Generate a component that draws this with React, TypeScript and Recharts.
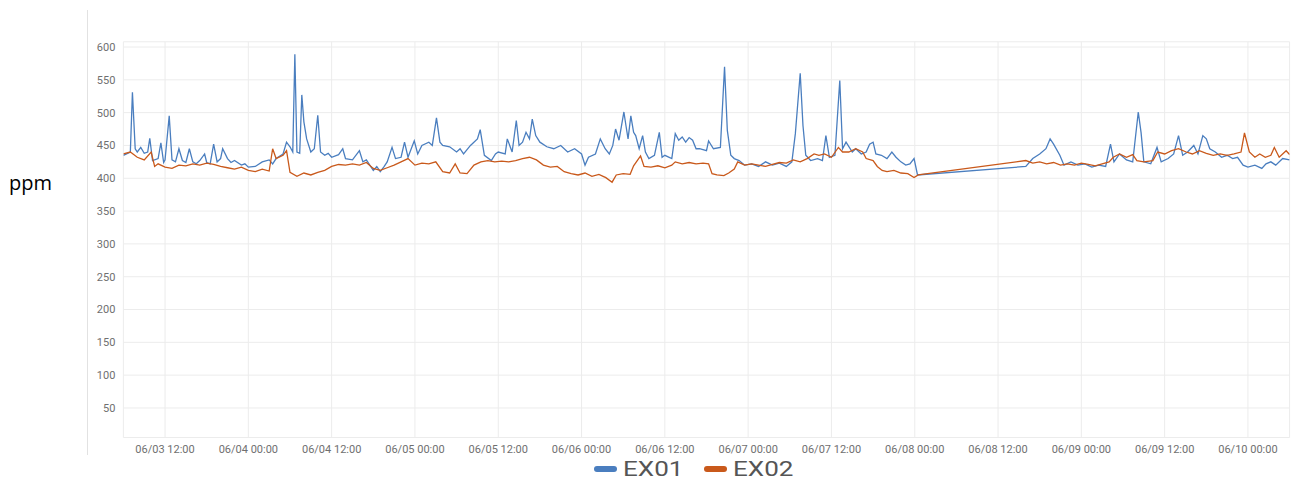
import React from "react";
import { LineChart, Line, XAxis, YAxis, CartesianGrid, Legend } from "recharts";

// hours since 06/03 06:00
const ex01Hours = [
  0, 1, 1.3, 1.7, 2, 2.5, 3, 3.5, 3.8, 4.2, 5, 5.4, 5.8, 6, 6.6, 7, 7.5, 8, 8.5, 9, 9.5, 10, 10.5, 11, 11.7, 12, 12.5, 13, 13.5, 14, 14.3, 15, 15.5, 16, 17, 17.5, 18, 19, 20, 21, 21.5, 22, 23, 23.5, 24, 24.4, 24.7, 25, 25.4, 25.7, 26, 26.4, 27, 27.5, 28, 28.4, 29, 29.5, 30, 31, 31.6, 32, 33, 34, 34.5, 35, 36, 36.5, 37, 37.5, 38, 38.7, 39.2, 40, 40.5, 41, 41.9, 42.4, 43, 44, 44.5, 45.1, 45.6, 46, 47, 48, 48.5, 49, 50, 51, 51.4, 52, 53, 53.6, 54, 55, 55.3, 56, 56.6, 57, 57.5, 58, 58.5, 58.9, 59.4, 60, 61, 62, 63, 64, 65, 66, 66.5, 67, 68, 68.7, 69.4, 70, 70.5, 70.9, 71.4, 72.1, 72.4, 72.7, 73.1, 73.5, 73.8, 74.3, 74.8, 75.2, 75.7, 76.5, 77.2, 77.6, 78, 79, 79.5, 80, 80.5, 81, 81.5, 82, 82.5, 83, 84, 84.3, 85, 86, 86.6, 87, 87.5, 88, 88.7, 89.5, 90.5, 91.5, 92.5, 93.5, 94.5, 95.5, 96.3, 96.8, 97.5, 97.9, 98.3, 99, 100, 100.7, 101.2, 101.7, 102.5, 103.2, 103.6, 104.1, 105, 105.5, 106.3, 107, 107.5, 108, 108.4, 109.2, 110, 110.7, 111.3, 112, 112.7, 113.3, 113.9, 114.4,
  130, 131, 132, 132.9, 133.5, 134, 134.9, 135.5, 136.5, 137.5, 138.5, 139.5, 140.5, 141.5, 142.2, 142.7, 143.5, 144.5, 145.4, 146.2, 146.6, 147, 148, 148.9, 149.5, 150.5, 151.3, 152, 152.6, 153.3, 154.2, 154.8, 155.5, 156, 156.5, 157.3, 158.2, 159, 159.8, 160.5, 161.3, 162, 163, 164, 164.6, 165.3, 166, 167, 168,
];
const ex01Values = [
  435, 440, 531, 445, 440, 447, 438, 440, 461, 427, 430, 454, 424, 428, 495, 428, 425, 445, 427, 424, 445, 425, 422, 427, 437, 424, 422, 452, 425, 430, 445, 430, 424, 427, 420, 422, 417, 418, 425, 428, 422, 430, 437, 455, 448, 440, 589, 440, 438, 527, 486, 460, 440, 445, 496, 440, 435, 438, 432, 436, 445, 430, 428, 442, 425, 428, 412, 418, 410, 417, 425, 447, 430, 432, 455, 432, 457, 437, 450, 455, 450, 492, 455, 450, 448, 440, 445, 437, 450, 460, 474, 435, 427, 437, 440, 437, 460, 440, 488, 450, 455, 470, 460, 490, 465, 455, 448, 445, 450, 440, 445, 437, 420, 432, 437, 460, 445, 437, 450, 475, 458, 501, 480, 460, 495, 470, 465, 445, 465, 440, 430, 435, 470, 432, 435, 430, 468, 458, 463, 455, 462, 458, 445, 445, 442, 457, 445, 447, 570, 473, 435, 430, 427, 420, 422, 418, 425, 420, 423, 418, 425, 468, 560, 480, 435, 427, 430, 427, 465, 432, 435, 549, 445, 455, 440, 445, 437, 440, 452, 455, 437, 435, 430, 440, 432, 425, 420, 422, 430, 405,
  418, 430, 437, 445, 460, 452, 435, 420, 425, 420, 422, 417, 420, 418, 452, 425, 437, 428, 425, 501, 470, 425, 422, 447, 425, 430, 437, 465, 435, 440, 450, 437, 465, 460, 445, 440, 432, 435, 430, 432, 420, 417, 420, 415, 422, 425, 420, 430, 428,
];

const ex02Hours = [
  0, 1, 2, 3, 4, 4.5, 5, 6, 7, 8, 9, 10, 11, 12, 13, 14, 15, 16, 17, 18, 19, 20, 21, 21.5, 22, 23, 23.5, 24, 25, 26, 27, 28, 29, 30, 31, 32, 33, 34, 35, 36, 37, 38, 39, 40, 41, 42, 43, 44, 45, 46, 47, 47.8, 48.5, 49.5, 50.5, 51.5, 52.5, 53.5, 54.5, 55.5, 56.5, 57.5, 58.5, 59.5, 60.5, 61.5, 62.5, 63.5, 64.5, 65.5, 66.5, 67.5, 68.5, 69.5, 70.4, 71, 72, 73, 73.5, 74.5, 75, 76, 77, 78, 79, 79.5, 80.5, 81.5, 82.5, 83.5, 84.3, 84.8, 85.5, 86.5, 87.2, 88, 88.5, 89.5, 90.5, 91.5, 92.5, 93.5, 94.5, 95.5, 96.5, 97.5, 98.5, 99.5, 100.2, 101, 102, 103, 103.6, 104.5, 105.5, 106.5, 107, 108, 108.6, 109.3, 110, 111, 112, 113, 113.9, 114.5,
  130, 131, 132, 133, 134, 135, 136, 137, 138, 139, 140, 141, 142, 142.6, 143.5, 144.5, 145.4, 146, 147, 148.3, 149, 150, 151, 152, 153.1, 154, 155, 156, 157, 158, 159, 160, 161, 161.5, 162.2, 163, 163.7, 164.5, 165.3, 165.8, 166.5, 167.5, 168,
];
const ex02Values = [
  437, 440, 432, 428, 440, 418, 422, 417, 415, 420, 419, 422, 420, 423, 421, 418, 416, 414, 417, 412, 410, 414, 411, 445, 430, 435, 442, 409, 403, 408, 405, 409, 412, 418, 421, 420, 422, 420, 424, 415, 412, 416, 420, 425, 430, 420, 423, 422, 425, 410, 408, 422, 408, 407, 420, 425, 427, 425, 426, 425, 427, 430, 432, 428, 420, 417, 418, 410, 407, 405, 408, 403, 406, 401, 394, 405, 407, 406, 419, 434, 418, 417, 419, 416, 420, 425, 422, 424, 422, 423, 422, 407, 405, 404, 408, 414, 425, 420, 422, 420, 418, 421, 424, 423, 428, 425, 430, 437, 435, 437, 432, 447, 440, 440, 445, 440, 430, 427, 418, 412, 410, 412, 408, 407, 401, 405,
  427, 423, 425, 422, 424, 420, 422, 420, 423, 421, 419, 422, 425, 432, 437, 432, 436, 427, 425, 427, 440, 437, 442, 445, 440, 437, 442, 438, 435, 437, 435, 437, 440, 469, 440, 432, 437, 432, 435, 447, 432, 442, 436,
];

const xTickHours = [6, 18, 30, 42, 54, 66, 78, 90, 102, 114, 126, 138, 150, 162];
const xTickLabels = [
  "06/03 12:00", "06/04 00:00", "06/04 12:00", "06/05 00:00", "06/05 12:00", "06/06 00:00", "06/06 12:00",
  "06/07 00:00", "06/07 12:00", "06/08 00:00", "06/08 12:00", "06/09 00:00", "06/09 12:00", "06/10 00:00",
];
const yTicks = [50, 100, 150, 200, 250, 300, 350, 400, 450, 500, 550, 600];

const BLUE = "#4a7ebf";
const ORANGE = "#c9591b";

const ex01Data = ex01Hours.map((t, i) => ({ t, v: ex01Values[i] }));
const ex02Data = ex02Hours.map((t, i) => ({ t, v: ex02Values[i] }));

const tickLabel = (t: number) => {
  const i = xTickHours.indexOf(t);
  return i >= 0 ? xTickLabels[i] : "";
};

const legendItems = [
  { name: "EX01", c: BLUE, left: 594 },
  { name: "EX02", c: ORANGE, left: 704 },
];

const LegendContent = () => (
  <div style={{ position: "relative", width: 1293, height: 28, fontFamily: "Roboto, sans-serif", color: "#555" }}>
    {legendItems.map((s) => (
      <div key={s.name} style={{ position: "absolute", left: s.left, top: 0, height: 28, display: "flex", alignItems: "center" }}>
        <div style={{ width: 23, height: 6, borderRadius: 3, background: s.c, marginRight: 6 }} />
        <span style={{ display: "inline-block", fontSize: 21, transform: "scaleX(1.24)", transformOrigin: "left center" }}>{s.name}</span>
      </div>
    ))}
  </div>
);

export default function App() {
  return (
    <div style={{ position: "absolute", left: 0, top: 0, width: 1293, height: 481, background: "#fff" }}>
      <div style={{ position: "absolute", left: 87, top: 10, width: 1, height: 445, background: "#e2e2e2" }} />
      <div style={{ position: "absolute", left: 9, top: 169, fontFamily: "'Open Sans', sans-serif", fontSize: 20, color: "#000" }}>ppm</div>
      <div style={{ position: "absolute", left: 0, top: 0 }}>
        <LineChart width={1293} height={481} margin={{ top: 41.75, right: 3.4, left: 60, bottom: 23.5 }}>
          <CartesianGrid stroke="#ececec" strokeWidth={1} />
          <XAxis
            dataKey="t"
            type="number"
            domain={[0, 168]}
            ticks={xTickHours}
            tickFormatter={tickLabel}
            allowDataOverflow
            axisLine={false}
            tickLine={false}
            height={20}
            tick={{ fill: "#6f6f6f", fontSize: 11, fontFamily: "Roboto, sans-serif" }}
            interval={0}
          />
          <YAxis
            type="number"
            domain={[5, 608]}
            ticks={yTicks}
            allowDataOverflow
            axisLine={false}
            tickLine={false}
            width={63.4}
            tick={{ fill: "#6f6f6f", fontSize: 11, fontFamily: "Roboto, sans-serif" }}
          />
          <Legend
            layout="horizontal"
            verticalAlign="middle"
            align="center"
            content={LegendContent}
            wrapperStyle={{ position: "absolute", top: 455, left: 0, width: 1293, height: 28 }}
          />
          <Line data={ex01Data} dataKey="v" name="EX01" type="linear" stroke={BLUE} strokeWidth={1.3} dot={false} isAnimationActive={false} />
          <Line data={ex02Data} dataKey="v" name="EX02" type="linear" stroke={ORANGE} strokeWidth={1.3} dot={false} isAnimationActive={false} />
        </LineChart>
      </div>
    </div>
  );
}
